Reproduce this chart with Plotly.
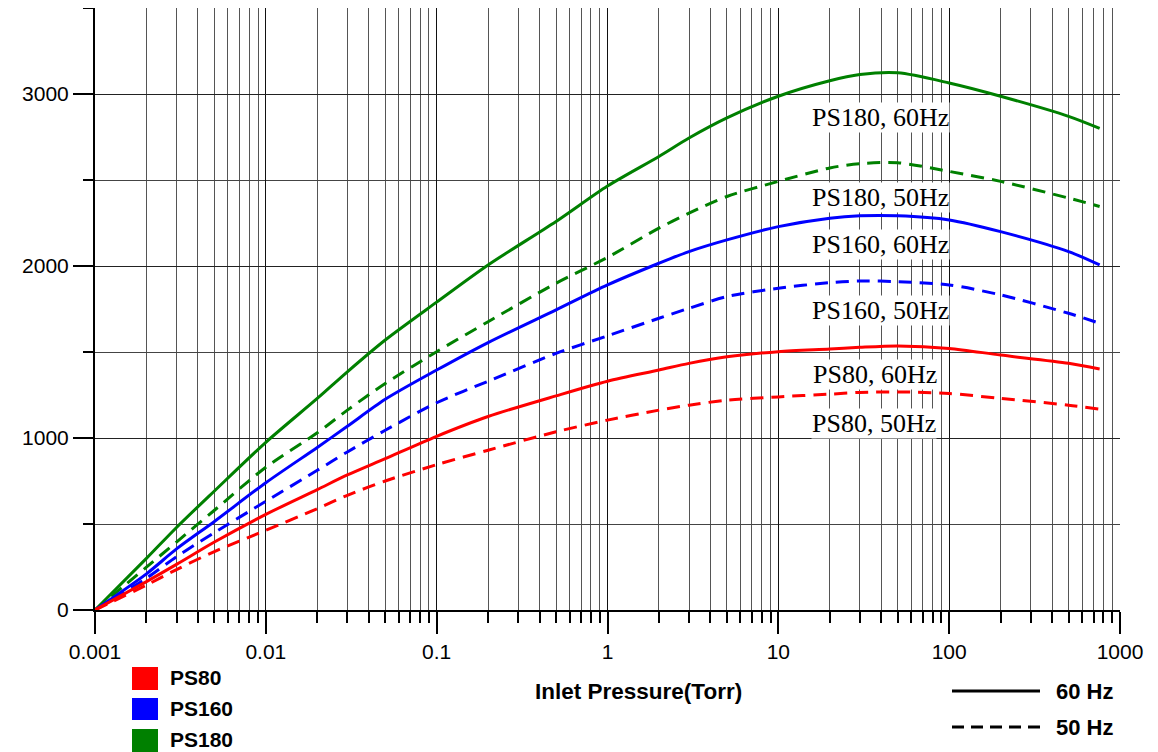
import plotly.graph_objects as go

# ---------------- data ----------------
pressure = [0.001, 0.002, 0.003, 0.005, 0.01, 0.02, 0.03, 0.05, 0.1, 0.2, 0.5,
            1, 2, 3, 5, 10, 20, 30, 50, 100, 200, 500, 760]

ps180_60 = [0, 300, 480, 692, 975, 1230, 1385, 1570, 1790, 2006, 2259,
            2465, 2637, 2744, 2861, 2987, 3077, 3113, 3123, 3064, 2987, 2870, 2800]
ps180_50 = [0, 249, 395, 580, 830, 1030, 1162, 1317, 1502, 1676, 1900,
            2050, 2220, 2307, 2404, 2492, 2570, 2595, 2600, 2550, 2492, 2395, 2346]
ps160_60 = [0, 210, 355, 515, 740, 945, 1068, 1225, 1395, 1555, 1745,
            1890, 2016, 2084, 2152, 2229, 2278, 2292, 2292, 2268, 2200, 2084, 2006]
ps160_50 = [0, 185, 310, 450, 632, 812, 919, 1045, 1205, 1330, 1492,
            1594, 1696, 1754, 1822, 1871, 1903, 1913, 1909, 1890, 1832, 1725, 1667]
ps80_60 = [0, 165, 265, 395, 556, 700, 785, 880, 1010, 1125, 1245,
           1330, 1395, 1434, 1472, 1502, 1517, 1527, 1535, 1521, 1482, 1434, 1401]
ps80_50 = [0, 145, 235, 340, 463, 589, 667, 750, 845, 929, 1036,
           1104, 1162, 1191, 1220, 1239, 1255, 1265, 1268, 1259, 1230, 1191, 1168]

x_tickvals = [0.001, 0.01, 0.1, 1, 10, 100, 1000]
x_ticktext = ["0.001", "0.01", "0.1", "1", "10", "100", "1000"]
x_minor = [m * d for d in [0.001, 0.01, 0.1, 1, 10, 100] for m in range(2, 10)]
y_tickvals = [0, 1000, 2000, 3000]
y_minor = [500, 1500, 2500, 3500]

series = [
    ("PS180, 60Hz", ps180_60, "#008000", "solid"),
    ("PS180, 50Hz", ps180_50, "#008000", "13px,8px"),
    ("PS160, 60Hz", ps160_60, "#0000FF", "solid"),
    ("PS160, 50Hz", ps160_50, "#0000FF", "13px,8px"),
    ("PS80, 60Hz", ps80_60, "#FF0000", "solid"),
    ("PS80, 50Hz", ps80_50, "#FF0000", "13px,8px"),
]
label_pos = {  # screen-pixel centres of curve labels
    "PS180, 60Hz": (880, 117),
    "PS180, 50Hz": (880, 198),
    "PS160, 60Hz": (880, 245),
    "PS160, 50Hz": (880, 310),
    "PS80, 60Hz": (875, 375),
    "PS80, 50Hz": (874, 423),
}

# the page body has an 8px margin, so the figure starts at (8, 8) on screen
W, H = 1150, 744
L, R, T, B = 87, 38, 0, 142
PW, PH = W - L - R, H - T - B
X0, Y1 = 8 + L, 8 + H - B   # screen x of plot left, screen y of plot bottom


def px(x):
    return (x - X0) / PW


def py(y):
    return (Y1 - y) / PH


fig = go.Figure()
for name, vals, col, dash in series:
    fig.add_trace(go.Scatter(x=pressure, y=vals, mode="lines", name=name,
                             line=dict(color=col, width=3, dash=dash,
                                       shape="spline", smoothing=0.8),
                             showlegend=False))

ann = []
for name, (cx, cy) in label_pos.items():
    ann.append(dict(x=px(cx), y=py(cy), xref="paper", yref="paper", text=name,
                    showarrow=False, xanchor="center", yanchor="middle",
                    bgcolor="white", borderpad=0,
                    font=dict(family="Liberation Serif, Times New Roman, serif",
                              size=26, color="black")))

sans = "Liberation Sans, Arial, sans-serif"
# colour legend at bottom left
shapes = []
legend_items = [("PS80", "#FF0000", 667, 690), ("PS160", "#0000FF", 698, 720),
                ("PS180", "#008000", 729, 752)]
for txt, col, y0, y1 in legend_items:
    shapes.append(dict(type="rect", xref="paper", yref="paper",
                       x0=px(132), x1=px(158), y0=py(y1), y1=py(y0),
                       fillcolor=col, line=dict(width=0)))
    ann.append(dict(x=px(168), y=py((y0 + y1) / 2 - 1), xref="paper", yref="paper",
                    text="<b>%s</b>" % txt, showarrow=False, xanchor="left",
                    yanchor="middle", font=dict(family=sans, size=21, color="black")))

# line style legend at bottom right
for txt, yy, dash in [("60 Hz", 691, "solid"), ("50 Hz", 727, "12px,7px")]:
    shapes.append(dict(type="line", xref="paper", yref="paper",
                       x0=px(952), x1=px(1040), y0=py(yy), y1=py(yy),
                       line=dict(color="black", width=3, dash=dash)))
    ann.append(dict(x=px(1054), y=py(yy), xref="paper", yref="paper",
                    text="<b>%s</b>" % txt, showarrow=False, xanchor="left",
                    yanchor="middle", font=dict(family=sans, size=22, color="black")))

ann.append(dict(x=px(638), y=py(691), xref="paper", yref="paper",
                text="<b>Inlet Pressure(Torr)</b>", showarrow=False,
                xanchor="center", yanchor="middle",
                font=dict(family=sans, size=22.5, color="black")))

fig.update_layout(
    width=W, height=H,
    margin=dict(l=L, r=R, t=T, b=B, pad=0),
    paper_bgcolor="white", plot_bgcolor="white",
    font=dict(family=sans, size=21, color="black"),
    annotations=ann, shapes=shapes,
    xaxis=dict(type="log", range=[-3, 3], tickvals=x_tickvals, ticktext=x_ticktext,
               ticks="outside", ticklen=22, tickwidth=2, tickcolor="black",
               showline=True, linewidth=2, linecolor="black",
               showgrid=True, gridcolor="#111", gridwidth=1, zeroline=False,
               tickfont=dict(size=21),
               minor=dict(tickvals=x_minor, ticks="outside", ticklen=11,
                          tickwidth=1.5, tickcolor="black", showgrid=True,
                          gridcolor="#555", gridwidth=1)),
    yaxis=dict(range=[0, 3500], tickvals=y_tickvals,
               ticks="outside", ticklen=20, tickwidth=2, tickcolor="black",
               showline=True, linewidth=2, linecolor="black",
               showgrid=True, gridcolor="#222", gridwidth=1, zeroline=False,
               tickfont=dict(size=21),
               minor=dict(tickvals=y_minor, ticks="outside", ticklen=10,
                          tickwidth=2, tickcolor="black", showgrid=True,
                          gridcolor="#444", gridwidth=1)),
)

fig.write_html("out.html")
